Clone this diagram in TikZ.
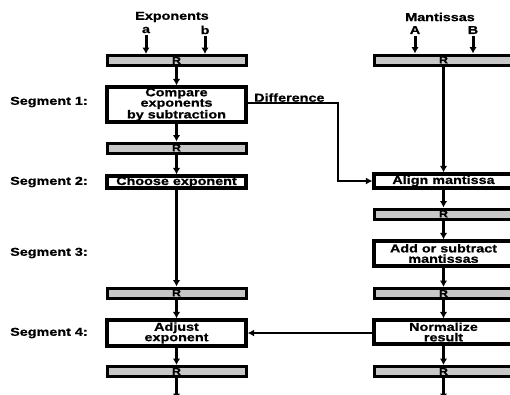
\documentclass[tikz,border=0pt]{standalone}
\usepackage{fontspec}
\setmainfont[FakeStretch=1.25,BoldFeatures={FakeBold=0.8}]{Liberation Sans}
\usetikzlibrary{arrows.meta}
\begin{document}
\begin{tikzpicture}[x=1pt,y=-1pt,
  txt/.style={font=\fontsize{11.5}{10}\selectfont\bfseries, inner sep=0pt},
  box/.style={draw, line width=3.2pt, minimum width=139pt, inner sep=0pt, align=center, font=\fontsize{11.5}{10.4}\selectfont\bfseries, fill=white},
  reg/.style={draw, line width=3pt, minimum width=139pt, minimum height=10pt, inner sep=0pt, fill=black!22, font=\fontsize{10}{9}\selectfont\bfseries},
  arr/.style={line width=3pt, -{Latex[length=6.5pt,width=7.5pt]}},
  thinarr/.style={line width=1.8pt, -{Latex[length=6.5pt,width=7pt]}}]
\useasboundingbox (0,0) rectangle (510,394);
\clip (0,0) rectangle (510,394);
% left column
\node[txt] (expo) at (172,17) {Exponents};
\node[txt] (la) at (146,30) {a};
\node[txt] (lb) at (205,30) {b};
\node[reg] (r1) at (176.5,60.5) {R};
\node[box, minimum height=35pt] (cmp) at (176.5,104.5) {Compare\\exponents\\by subtraction};
\node[reg] (r2) at (176.5,148) {R};
\node[box, minimum height=12pt] (cho) at (176.5,182) {Choose exponent};
\node[reg] (r3) at (176.5,293) {R};
\node[box, minimum height=26pt] (adj) at (176.5,333) {Adjust\\exponent};
\node[reg] (r4) at (176.5,371.5) {R};
\coordinate (outl) at (176.5,400);
% right column
\node[txt] (mant) at (440,17) {Mantissas};
\node[txt] (lA) at (415,30) {A};
\node[txt] (lB) at (473,30) {B};
\node[reg] (r5) at (443.5,60) {R};
\node[box, minimum height=14pt] (ali) at (443.5,181) {Align mantissa};
\node[reg] (r6) at (443.5,214) {R};
\node[box, minimum height=25pt] (add) at (443.5,253.5) {Add or subtract\\mantissas};
\node[reg] (r7) at (443.5,293.5) {R};
\node[box, minimum height=24pt] (nor) at (443.5,332) {Normalize\\result};
\node[reg] (r8) at (443.5,371.5) {R};
\coordinate (outr) at (443.5,400);
% segment labels
\node[txt, anchor=west] (s1) at (10,102) {Segment 1:};
\node[txt, anchor=west] (s2) at (10,182) {Segment 2:};
\node[txt, anchor=west] (s3) at (10,253) {Segment 3:};
\node[txt, anchor=west] (s4) at (10,333) {Segment 4:};
% arrows left
\draw[arr] (la.south) ++(0,2) -- (la.south |- r1.north);
\draw[arr] (lb.south) ++(0,2) -- (lb.south |- r1.north);
\draw[arr] (r1) -- (cmp);
\draw[arr] (cmp) -- (r2);
\draw[arr] (r2) -- (cho);
\draw[arr] (cho) -- (r3);
\draw[arr] (r3) -- (adj);
\draw[arr] (adj) -- (r4);
\draw[arr] (r4) -- (outl);
% arrows right
\draw[arr] (lA.south) ++(0,2) -- (lA.south |- r5.north);
\draw[arr] (lB.south) ++(0,2) -- (lB.south |- r5.north);
\draw[arr] (r5) -- (ali);
\draw[arr] (ali) -- (r6);
\draw[arr] (r6) -- (add);
\draw[arr] (add) -- (r7);
\draw[arr] (r7) -- (nor);
\draw[arr] (nor) -- (r8);
\draw[arr] (r8) -- (outr);
% difference
\coordinate (dturn) at (338,103);
\draw[thinarr] (cmp.east |- dturn) -- (dturn) -- (dturn |- ali.west) -- (ali.west);
\node[txt, anchor=south west] (diff) at (254,102) {Difference};
% normalize to adjust
\draw[thinarr] (nor.west |- adj.east) -- (adj.east);
\end{tikzpicture}
\end{document}
